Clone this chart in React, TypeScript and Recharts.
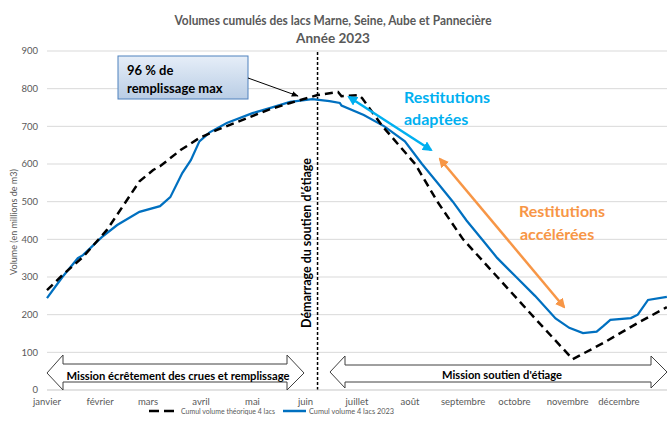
import { LineChart, Line, XAxis, YAxis, CartesianGrid, ReferenceLine } from 'recharts';

// axes
const monthStarts = [0, 31, 59, 90, 120, 151, 181, 212, 243, 273, 304, 334];
const monthLabels = ['janvier', 'février', 'mars', 'avril', 'mai', 'juin', 'juillet', 'août', 'septembre', 'octobre', 'novembre', 'décembre'];
const volumeTicks = [0, 100, 200, 300, 400, 500, 600, 700, 800, 900];

// Cumul volume 4 lacs 2023 (day of year, millions m3)
const realDays = [0, 9, 18, 21, 32, 41, 54, 66, 72, 79, 84, 89, 95, 105, 120, 132, 142, 155, 165, 171, 172, 185, 197, 209, 219, 228, 237, 245, 254, 263, 274, 285, 297, 305, 313, 321, 325, 329, 341, 345, 351, 362];
const realVolumes = [244, 300, 350, 358, 406, 438, 473, 488, 512, 576, 610, 660, 684, 709, 735, 751, 765, 772, 767, 762, 755, 730, 700, 660, 600, 550, 500, 450, 400, 350, 300, 250, 190, 165, 151, 155, 170, 186, 191, 200, 239, 247];

// Cumul volume théorique 4 lacs
const theoDays = [0, 9, 21, 35, 44, 54, 62, 66, 78, 89, 99, 117, 130, 142, 158, 170, 172, 182, 184, 196, 215, 228, 243, 263, 286, 307, 325, 345, 362];
const theoVolumes = [265, 305, 353, 425, 486, 554, 584, 594, 637, 669, 690, 722, 745, 762, 783, 791, 780, 783, 775, 700, 600, 500, 400, 300, 185, 82, 125, 178, 220];

// début du soutien d'étiage
const soutienStart = 158;

const realData = realDays.map((d, i) => ({ day: d, volume: realVolumes[i] }));
const theoData = theoDays.map((d, i) => ({ day: d, volume: theoVolumes[i] }));

const FONT = 'Lato, "Open Sans", sans-serif';
const GREY = '#595959';

function Overlay() {
  return (
    <svg width={667} height={426} style={{ position: 'absolute', left: 0, top: 0, pointerEvents: 'none' }} fontFamily={FONT}>
      <defs>
        <linearGradient id="boxFill" x1="0" y1="0" x2="0" y2="1">
          <stop offset="0%" stopColor="#e6eef8" />
          <stop offset="100%" stopColor="#b9cde5" />
        </linearGradient>
        <marker id="headBlack" viewBox="0 0 10 10" refX="9" refY="5" markerWidth="7" markerHeight="7" orient="auto-start-reverse">
          <path d="M0,1 L10,5 L0,9 z" fill="#000" />
        </marker>
        <marker id="headCyan" viewBox="0 0 10 10" refX="8" refY="5" markerWidth="4" markerHeight="4" orient="auto-start-reverse">
          <path d="M0,0 L10,5 L0,10 z" fill="#00b0f0" />
        </marker>
        <marker id="headOrange" viewBox="0 0 10 10" refX="8" refY="5" markerWidth="4" markerHeight="4" orient="auto-start-reverse">
          <path d="M0,0 L10,5 L0,10 z" fill="#f79646" />
        </marker>
      </defs>

      {/* title */}
      <text x={333} y={25} textAnchor="middle" fontSize={13.5} fontWeight="bold" fill={GREY} textLength={317} lengthAdjust="spacingAndGlyphs">
        Volumes cumulés des lacs Marne, Seine, Aube et Pannecière
      </text>
      <text x={333} y={43} textAnchor="middle" fontSize={13.5} fontWeight="bold" fill={GREY} textLength={74} lengthAdjust="spacingAndGlyphs">
        Année 2023
      </text>

      {/* y label */}
      <text transform="translate(17,222) rotate(-90)" textAnchor="middle" fontSize={9} fill={GREY}>
        Volume (en millions de m3)
      </text>

      {/* 96 % box */}
      <rect x={118} y={56} width={130} height={43} fill="url(#boxFill)" stroke="#4f81bd" strokeWidth={1} />
      <text x={127} y={75} fontSize={13} fontWeight="bold" fill="#000">96 % de</text>
      <text x={127} y={93} fontSize={13} fontWeight="bold" fill="#000">remplissage max</text>
      <line x1={248} y1={78} x2={298} y2={96} stroke="#000" strokeWidth={1} markerEnd="url(#headBlack)" />

      {/* start label */}
      <text transform="translate(306,243) rotate(-90)" textAnchor="middle" dominantBaseline="central" fontSize={12.5} fontWeight="bold" fill="#000">
        Démarrage du soutien d'étiage
      </text>

      {/* restitutions adaptées */}
      <text x={404} y={103} fontSize={16} fontWeight="bold" fill="#00b0f0">Restitutions</text>
      <text x={404} y={125} fontSize={16} fontWeight="bold" fill="#00b0f0">adaptées</text>
      <line x1={349} y1={97} x2={431} y2={150} stroke="#00b0f0" strokeWidth={2.5} markerStart="url(#headCyan)" markerEnd="url(#headCyan)" />

      {/* restitutions accélérées */}
      <text x={519} y={217} fontSize={16} fontWeight="bold" fill="#f79646">Restitutions</text>
      <text x={520} y={240} fontSize={16} fontWeight="bold" fill="#f79646">accélérées</text>
      <line x1={440} y1={159} x2={564} y2={307} stroke="#f79646" strokeWidth={2.5} markerStart="url(#headOrange)" markerEnd="url(#headOrange)" />

      {/* mission arrows */}
      <polygon
        points="47,373 63,355 63,364 287,364 287,355 304,373 287,390 287,382 63,382 63,390"
        fill="#fff" stroke="#404040" strokeWidth={1}
      />
      <text x={178} y={377} textAnchor="middle" dominantBaseline="middle" fontSize={11.5} fontWeight="bold" fill="#000" textLength={223} lengthAdjust="spacingAndGlyphs">
        Mission écrêtement des crues et remplissage
      </text>
      <polygon
        points="330,372 345,356 345,365 651,365 651,356 667,372 651,388 651,382 345,382 345,388"
        fill="#fff" stroke="#404040" strokeWidth={1}
      />
      <text x={502} y={376} textAnchor="middle" dominantBaseline="middle" fontSize={11.5} fontWeight="bold" fill="#000" textLength={120} lengthAdjust="spacingAndGlyphs">
        Mission soutien d'étiage
      </text>

      {/* legend */}
      <line x1={149} y1={411} x2={178} y2={411} stroke="#000" strokeWidth={2.5} strokeDasharray="10 5" />
      <text x={181} y={414} fontSize={8} fill={GREY} textLength={94} lengthAdjust="spacingAndGlyphs">Cumul volume théorique 4 lacs</text>
      <line x1={283} y1={411} x2={306} y2={411} stroke="#0070c0" strokeWidth={2.5} />
      <text x={309} y={414} fontSize={8} fill={GREY} textLength={85} lengthAdjust="spacingAndGlyphs">Cumul volume 4 lacs 2023</text>
    </svg>
  );
}

export default function App() {
  return (
    <div style={{ position: 'absolute', left: 0, top: 0, width: 667, height: 426, overflow: 'hidden', background: '#fff' }}>
      <LineChart width={675} height={426} margin={{ top: 51, right: 3, left: 0, bottom: 16 }}>
        <CartesianGrid vertical={false} stroke="#d9d9d9" />
        <XAxis
          dataKey="day"
          type="number"
          domain={[0, 365]}
          ticks={monthStarts}
          tickFormatter={(d: number) => monthLabels[monthStarts.indexOf(d)]}
          height={20}
          tickLine={false}
          axisLine={{ stroke: '#d9d9d9' }}
          tick={{ fontSize: 9.5, fill: GREY, fontFamily: FONT }}
        />
        <YAxis
          type="number"
          domain={[0, 900]}
          ticks={volumeTicks}
          width={47}
          tickLine={false}
          axisLine={false}
          tickSize={0}
          tickMargin={9}
          tick={{ fontSize: 9.5, fill: GREY, fontFamily: FONT }}
        />
        <ReferenceLine x={soutienStart} stroke="#000" strokeWidth={1.5} strokeDasharray="3 2" />
        <Line
          data={realData}
          dataKey="volume"
          type="linear"
          stroke="#0070c0"
          strokeWidth={2.25}
          dot={false}
          isAnimationActive={false}
        />
        <Line
          data={theoData}
          dataKey="volume"
          type="linear"
          stroke="#000"
          strokeWidth={2.5}
          strokeDasharray="8 5"
          dot={false}
          isAnimationActive={false}
        />
      </LineChart>
      <Overlay />
    </div>
  );
}
